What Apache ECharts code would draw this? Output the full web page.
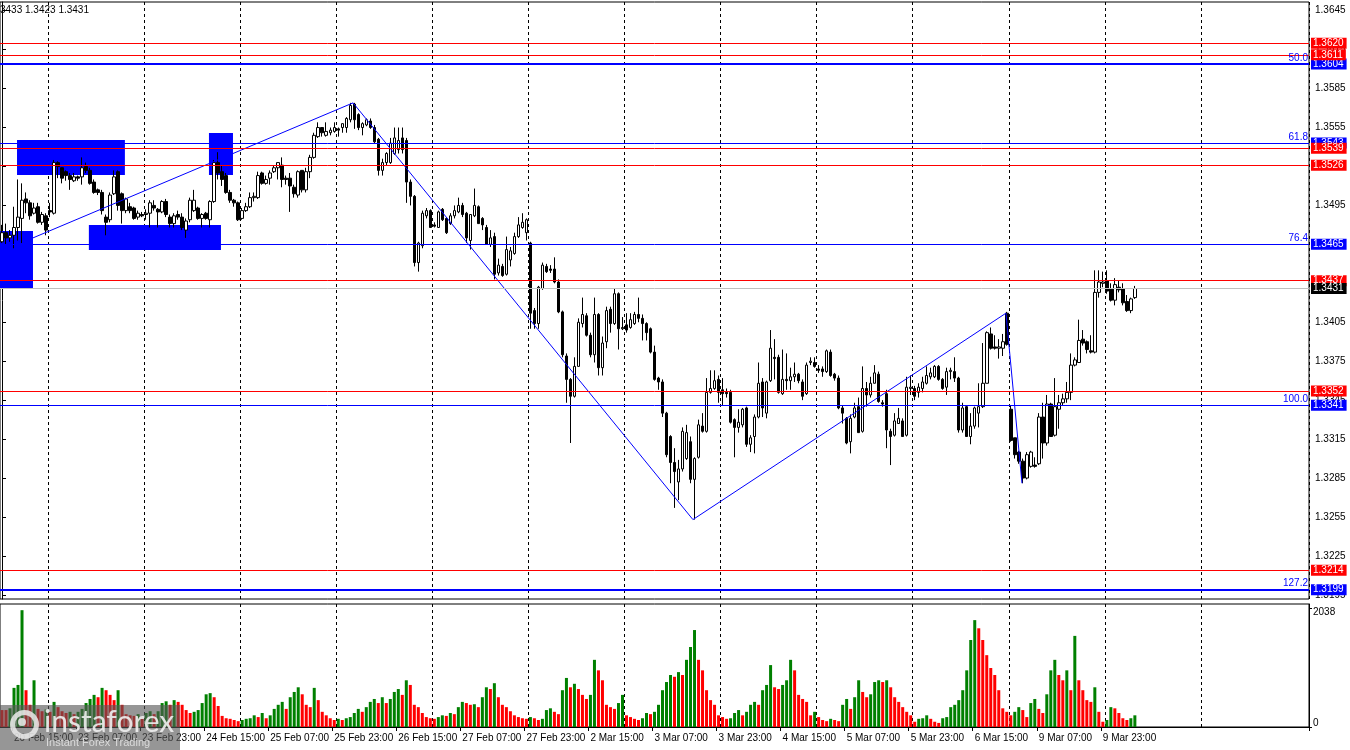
<!DOCTYPE html>
<html><head><meta charset="utf-8">
<script src="https://cdn.jsdelivr.net/npm/echarts@6/dist/echarts.min.js"></script>
<style>html,body{margin:0;padding:0;background:#fff;overflow:hidden}#c{width:1350px;height:750px}</style>
</head><body><div id="c"></div>
<script>
// ---- categories (hourly bars, trading days only) ----
const days = ['20 Feb','23 Feb','24 Feb','25 Feb','26 Feb','27 Feb','2 Mar','3 Mar','4 Mar','5 Mar','6 Mar','9 Mar','10 Mar','11 Mar','12 Mar'];
const firstHour = 12;
const slotCount = 327;

// ---- OHLC (H1) ----
const open = [
1.3467,1.3474,1.3470,1.3472,1.3478,1.3485,1.3500,1.3497,1.3489,1.3494,
1.3482,1.3487,1.3491,1.3489,1.3528,1.3524,1.3521,1.3518,1.3514,1.3517,
1.3517,1.3525,1.3522,1.3513,1.3507,1.3505,1.3486,1.3484,1.3504,1.3521,
1.3504,1.3491,1.3494,1.3493,1.3486,1.3488,1.3488,1.3489,1.3495,1.3492,
1.3490,1.3498,1.3486,1.3481,1.3488,1.3486,1.3476,1.3484,1.3491,1.3493,
1.3485,1.3489,1.3484,1.3498,1.3528,1.3521,1.3518,1.3505,1.3499,1.3497,
1.3485,1.3491,1.3494,1.3501,1.3501,1.3520,1.3512,1.3516,1.3521,1.3524,
1.3526,1.3516,1.3516,1.3509,1.3503,1.3522,1.3507,1.3521,1.3532,1.3548,
1.3555,1.3549,1.3551,1.3552,1.3554,1.3555,1.3555,1.3561,1.3573,1.3565,
1.3555,1.3557,1.3560,1.3555,1.3546,1.3522,1.3528,1.3528,1.3535,1.3538,
1.3547,1.3545,1.3513,1.3502,1.3451,1.3464,1.3487,1.3491,1.3480,1.3478,
1.3492,1.3485,1.3481,1.3487,1.3490,1.3495,1.3489,1.3468,1.3487,1.3494,
1.3485,1.3478,1.3465,1.3471,1.3443,1.3448,1.3442,1.3453,1.3458,1.3471,
1.3478,1.3474,1.3466,1.3414,1.3404,1.3431,1.3448,1.3446,1.3446,1.3436,
1.3413,1.3379,1.3361,1.3348,1.3371,1.3404,1.3410,1.3395,1.3380,1.3411,
1.3370,1.3390,1.3415,1.3404,1.3427,1.3400,1.3403,1.3401,1.3404,1.3411,
1.3408,1.3404,1.3400,1.3382,1.3362,1.3359,1.3335,1.3317,1.3297,1.3282,
1.3292,1.3300,1.3313,1.3284,1.3301,1.3325,1.3321,1.3351,1.3354,1.3361,
1.3353,1.3351,1.3351,1.3330,1.3324,1.3326,1.3339,1.3311,1.3317,1.3332,
1.3359,1.3335,1.3360,1.3378,1.3378,1.3350,1.3361,1.3360,1.3363,1.3365,
1.3359,1.3350,1.3374,1.3374,1.3369,1.3369,1.3367,1.3382,1.3365,1.3362,
1.3339,1.3331,1.3313,1.3332,1.3340,1.3321,1.3354,1.3349,1.3358,1.3365,
1.3343,1.3350,1.3321,1.3318,1.3327,1.3329,1.3318,1.3354,1.3354,1.3351,
1.3354,1.3358,1.3363,1.3363,1.3371,1.3361,1.3355,1.3367,1.3367,1.3362,
1.3322,1.3340,1.3317,1.3325,1.3335,1.3340,1.3358,1.3396,1.3386,1.3385,
1.3385,1.3412,1.3338,1.3316,1.3305,1.3298,1.3285,1.3294,1.3295,1.3296,
1.3332,1.3312,1.3342,1.3318,1.3338,1.3343,1.3346,1.3351,1.3372,1.3374,
1.3392,1.3390,1.3383,1.3382,1.3428,1.3435,1.3437,1.3431,1.3422,1.3432,
1.3431,1.3421,1.3414,1.3424];
const high = [
1.3480,1.3481,1.3476,1.3494,1.3515,1.3512,1.3505,1.3499,1.3497,1.3497,
1.3490,1.3489,1.3497,1.3530,1.3529,1.3524,1.3522,1.3520,1.3520,1.3518,
1.3532,1.3528,1.3524,1.3515,1.3508,1.3507,1.3488,1.3505,1.3522,1.3522,
1.3505,1.3501,1.3497,1.3494,1.3491,1.3490,1.3492,1.3499,1.3499,1.3493,
1.3499,1.3500,1.3488,1.3489,1.3491,1.3489,1.3485,1.3501,1.3507,1.3494,
1.3489,1.3490,1.3499,1.3530,1.3536,1.3526,1.3520,1.3507,1.3500,1.3498,
1.3493,1.3497,1.3505,1.3505,1.3521,1.3521,1.3518,1.3522,1.3526,1.3528,
1.3532,1.3518,1.3520,1.3511,1.3522,1.3522,1.3524,1.3534,1.3551,1.3559,
1.3555,1.3559,1.3555,1.3559,1.3555,1.3558,1.3563,1.3574,1.3574,1.3566,
1.3559,1.3562,1.3562,1.3557,1.3547,1.3531,1.3536,1.3547,1.3555,1.3555,
1.3555,1.3547,1.3515,1.3503,1.3467,1.3491,1.3493,1.3492,1.3482,1.3491,
1.3493,1.3486,1.3489,1.3495,1.3501,1.3497,1.3490,1.3488,1.3508,1.3495,
1.3486,1.3480,1.3476,1.3474,1.3454,1.3450,1.3471,1.3463,1.3474,1.3486,
1.3489,1.3485,1.3467,1.3416,1.3433,1.3451,1.3450,1.3449,1.3455,1.3438,
1.3414,1.3381,1.3362,1.3378,1.3408,1.3424,1.3412,1.3397,1.3424,1.3412,
1.3394,1.3417,1.3417,1.3431,1.3428,1.3409,1.3412,1.3412,1.3413,1.3424,
1.3411,1.3405,1.3401,1.3387,1.3363,1.3361,1.3336,1.3318,1.3308,1.3299,
1.3324,1.3326,1.3317,1.3301,1.3330,1.3335,1.3362,1.3368,1.3368,1.3364,
1.3362,1.3354,1.3353,1.3331,1.3338,1.3339,1.3340,1.3318,1.3334,1.3374,
1.3362,1.3360,1.3399,1.3392,1.3380,1.3384,1.3381,1.3370,1.3374,1.3366,
1.3361,1.3374,1.3378,1.3378,1.3372,1.3371,1.3384,1.3384,1.3366,1.3364,
1.3341,1.3332,1.3334,1.3343,1.3347,1.3371,1.3359,1.3363,1.3372,1.3367,
1.3345,1.3353,1.3323,1.3335,1.3339,1.3331,1.3363,1.3364,1.3356,1.3358,
1.3363,1.3371,1.3370,1.3372,1.3372,1.3362,1.3370,1.3370,1.3378,1.3363,
1.3343,1.3341,1.3335,1.3340,1.3358,1.3389,1.3398,1.3401,1.3395,1.3392,
1.3396,1.3413,1.3341,1.3316,1.3306,1.3300,1.3305,1.3306,1.3301,1.3335,
1.3343,1.3349,1.3343,1.3362,1.3349,1.3350,1.3359,1.3381,1.3378,1.3407,
1.3399,1.3391,1.3395,1.3445,1.3445,1.3444,1.3445,1.3435,1.3439,1.3437,
1.3435,1.3426,1.3424,1.3433];
const low = [
1.3466,1.3465,1.3467,1.3462,1.3468,1.3466,1.3489,1.3484,1.3488,1.3481,
1.3480,1.3472,1.3486,1.3488,1.3516,1.3512,1.3514,1.3507,1.3513,1.3514,
1.3511,1.3520,1.3511,1.3504,1.3503,1.3488,1.3472,1.3482,1.3503,1.3491,
1.3481,1.3489,1.3489,1.3484,1.3484,1.3486,1.3484,1.3478,1.3491,1.3478,
1.3489,1.3486,1.3478,1.3478,1.3484,1.3476,1.3470,1.3482,1.3490,1.3484,
1.3478,1.3484,1.3478,1.3497,1.3515,1.3510,1.3504,1.3497,1.3494,1.3483,
1.3484,1.3490,1.3493,1.3498,1.3500,1.3511,1.3511,1.3511,1.3520,1.3515,
1.3509,1.3511,1.3490,1.3501,1.3501,1.3505,1.3505,1.3516,1.3531,1.3547,
1.3548,1.3548,1.3549,1.3551,1.3548,1.3551,1.3551,1.3559,1.3554,1.3553,
1.3549,1.3556,1.3554,1.3543,1.3518,1.3518,1.3526,1.3527,1.3534,1.3535,
1.3535,1.3497,1.3495,1.3448,1.3444,1.3462,1.3485,1.3478,1.3478,1.3478,
1.3483,1.3473,1.3480,1.3485,1.3489,1.3486,1.3466,1.3461,1.3486,1.3481,
1.3476,1.3465,1.3463,1.3438,1.3441,1.3440,1.3441,1.3448,1.3457,1.3470,
1.3477,1.3468,1.3400,1.3400,1.3400,1.3430,1.3443,1.3443,1.3435,1.3412,
1.3378,1.3343,1.3312,1.3347,1.3371,1.3401,1.3394,1.3378,1.3374,1.3364,
1.3364,1.3385,1.3397,1.3403,1.3384,1.3399,1.3397,1.3400,1.3403,1.3405,
1.3391,1.3391,1.3381,1.3360,1.3353,1.3332,1.3301,1.3281,1.3262,1.3268,
1.3290,1.3299,1.3281,1.3253,1.3300,1.3320,1.3320,1.3350,1.3353,1.3343,
1.3341,1.3347,1.3327,1.3301,1.3320,1.3324,1.3309,1.3305,1.3304,1.3331,
1.3332,1.3331,1.3359,1.3361,1.3350,1.3349,1.3353,1.3353,1.3359,1.3358,
1.3345,1.3349,1.3372,1.3370,1.3366,1.3363,1.3366,1.3363,1.3360,1.3338,
1.3327,1.3311,1.3304,1.3331,1.3320,1.3320,1.3340,1.3347,1.3358,1.3343,
1.3340,1.3308,1.3295,1.3317,1.3327,1.3317,1.3317,1.3349,1.3345,1.3347,
1.3351,1.3357,1.3361,1.3362,1.3360,1.3353,1.3349,1.3361,1.3359,1.3320,
1.3320,1.3317,1.3311,1.3323,1.3324,1.3339,1.3358,1.3384,1.3384,1.3377,
1.3379,1.3387,1.3313,1.3300,1.3296,1.3281,1.3284,1.3293,1.3293,1.3295,
1.3300,1.3310,1.3317,1.3317,1.3323,1.3341,1.3343,1.3345,1.3371,1.3374,
1.3387,1.3381,1.3381,1.3381,1.3424,1.3432,1.3427,1.3421,1.3418,1.3428,
1.3418,1.3413,1.3412,1.3423];
const close = [
1.3474,1.3470,1.3472,1.3478,1.3486,1.3499,1.3497,1.3487,1.3493,1.3482,
1.3488,1.3476,1.3490,1.3528,1.3525,1.3516,1.3518,1.3515,1.3517,1.3516,
1.3524,1.3522,1.3512,1.3505,1.3505,1.3491,1.3482,1.3503,1.3517,1.3495,
1.3491,1.3500,1.3491,1.3485,1.3489,1.3487,1.3489,1.3497,1.3493,1.3490,
1.3498,1.3488,1.3481,1.3487,1.3486,1.3478,1.3483,1.3499,1.3499,1.3485,
1.3488,1.3485,1.3498,1.3528,1.3520,1.3515,1.3505,1.3499,1.3497,1.3484,
1.3491,1.3494,1.3501,1.3502,1.3518,1.3512,1.3515,1.3520,1.3524,1.3528,
1.3515,1.3515,1.3510,1.3504,1.3521,1.3507,1.3521,1.3532,1.3549,1.3555,
1.3551,1.3552,1.3553,1.3555,1.3553,1.3558,1.3562,1.3572,1.3561,1.3555,
1.3558,1.3561,1.3555,1.3544,1.3522,1.3528,1.3535,1.3543,1.3547,1.3545,
1.3538,1.3513,1.3502,1.3451,1.3466,1.3489,1.3491,1.3478,1.3479,1.3490,
1.3484,1.3474,1.3487,1.3491,1.3495,1.3488,1.3470,1.3488,1.3495,1.3481,
1.3480,1.3465,1.3470,1.3442,1.3449,1.3441,1.3461,1.3460,1.3471,1.3480,
1.3482,1.3484,1.3412,1.3404,1.3432,1.3449,1.3444,1.3445,1.3436,1.3413,
1.3380,1.3361,1.3348,1.3371,1.3405,1.3411,1.3395,1.3380,1.3411,1.3370,
1.3389,1.3414,1.3404,1.3427,1.3400,1.3401,1.3399,1.3407,1.3411,1.3408,
1.3404,1.3397,1.3382,1.3361,1.3359,1.3335,1.3303,1.3297,1.3290,1.3292,
1.3321,1.3320,1.3284,1.3300,1.3326,1.3321,1.3351,1.3354,1.3360,1.3351,
1.3350,1.3350,1.3328,1.3324,1.3328,1.3338,1.3311,1.3316,1.3332,1.3358,
1.3339,1.3359,1.3385,1.3377,1.3351,1.3361,1.3360,1.3363,1.3365,1.3360,
1.3348,1.3372,1.3375,1.3371,1.3368,1.3367,1.3383,1.3364,1.3362,1.3339,
1.3335,1.3312,1.3331,1.3339,1.3320,1.3354,1.3349,1.3358,1.3366,1.3344,
1.3342,1.3322,1.3317,1.3329,1.3331,1.3317,1.3355,1.3355,1.3348,1.3355,
1.3359,1.3364,1.3366,1.3371,1.3361,1.3354,1.3367,1.3368,1.3362,1.3322,
1.3339,1.3317,1.3325,1.3339,1.3340,1.3358,1.3397,1.3385,1.3385,1.3386,
1.3390,1.3388,1.3314,1.3303,1.3298,1.3285,1.3303,1.3305,1.3294,1.3332,
1.3312,1.3342,1.3317,1.3340,1.3343,1.3346,1.3351,1.3372,1.3376,1.3391,
1.3389,1.3384,1.3382,1.3428,1.3436,1.3436,1.3429,1.3422,1.3434,1.3430,
1.3420,1.3414,1.3423,1.3431];
const volume = [
290,290,320,670,720,2000,630,380,800,310,
270,300,260,430,340,270,240,260,220,260,
310,410,480,550,510,670,630,550,460,630,
380,220,200,190,220,170,240,270,220,270,
410,440,380,460,430,380,290,240,260,290,
410,560,580,510,360,190,150,140,120,100,
120,140,150,200,170,240,150,200,310,380,
430,310,510,600,680,560,380,340,670,460,
260,200,150,120,140,120,150,170,240,310,
260,340,430,480,410,510,410,480,600,650,
550,800,720,380,340,240,170,150,140,170,
200,190,240,220,340,430,410,380,390,340,
510,680,650,750,510,380,340,270,200,170,
150,140,170,150,120,140,290,320,260,220,
630,840,680,740,650,550,480,550,1150,970,
800,380,340,310,410,550,200,170,140,120,
150,240,220,260,380,630,770,890,860,940,
890,1150,1370,1660,1150,970,630,460,380,200,
170,140,150,240,290,200,260,380,430,380,
630,720,1060,680,650,720,800,1150,970,550,
480,430,200,260,170,120,100,140,120,100,
380,480,310,510,800,600,510,560,770,800,
770,800,680,510,430,340,260,200,90,140,
150,200,140,90,70,150,170,340,380,460,
630,970,1490,1830,1690,1490,1230,1010,890,630,
320,260,200,260,340,290,170,410,480,310,
240,560,970,1150,890,800,970,630,1560,800,
630,460,430,680,260,90,120,340,320,240,
150,120,150,200];

// ---- axis ticks ----
const priceTicks = [1.3195,1.3225,1.3255,1.3285,1.3315,1.3345,1.3375,1.3405,1.3435,1.3465,1.3495,1.3525,1.3555,1.3585,1.3615,1.3645];
const volumeTicks = [0, 2038];

// ---- horizontal levels ----
const redLevels = [1.3620, 1.3611, 1.3539, 1.3526, 1.3437, 1.3352, 1.3214];
const fibPrices = [1.3604, 1.3543, 1.3465, 1.3341, 1.3199];
const fibNames = ['50.0', '61.8', '76.4', '100.0', '127.2'];
const headerText = '3433 1.3423 1.3431';

// ---- zones [barStart, barEnd, priceTop, priceBottom] ----
const zones = [
  [-0.5, 7.74, 1.34753, 1.34314],
  [3.75, 30.7, 1.35454, 1.35184],
  [21.7, 54.7, 1.34799, 1.34606],
  [51.7, 57.7, 1.35508, 1.35184]
];
// ---- zigzag [bar, price] ----
const zigzag = [[7.74, 1.3470], [87.7, 1.3574], [172.6, 1.3253], [250.8, 1.3412], [254.8, 1.3281]];

// ---------------------------------------------------------------
const times = [];
days.forEach((d, j) => {
  for (let h = (j === 0 ? firstHour : 0); h < 24; h++) times.push(d + ' ' + String(h).padStart(2, '0') + ':00');
});
times.length = slotCount;
const nBars = close.length;
const FONT = 'Liberation Sans';
const lastClose = close[nBars - 1];

const candleData = open.map((o, k) => [o, close[k], low[k], high[k]]);
const volData = volume.map((v, k) => ({
  value: v,
  itemStyle: { color: (k > 0 && v > volume[k - 1]) ? '#008000' : '#FF0000' }
}));

const labelShow = (idx) => idx % 16 === 3 && idx < nBars;
const dayLine = (idx) => idx % 24 === 12 && idx < 310;

function levelSeries(name, price, lineColor, tagColor, width, z) {
  return {
    type: 'line', name: name, xAxisIndex: 2, yAxisIndex: 0, data: [], z: z, silent: true,
    color: lineColor,
    markLine: {
      silent: true, symbol: 'none', animation: false, z: z, precision: 4,
      lineStyle: { color: lineColor, width: width, type: 'solid', opacity: 1 },
      label: {
        show: true, position: 'end', distance: 2,
        formatter: price.toFixed(4),
        color: '#fff', backgroundColor: tagColor,
        fontFamily: FONT, fontSize: 10, padding: [1, 3, 0, 2], lineHeight: 10
      },
      data: [{ yAxis: price }]
    }
  };
}
function fibTextSeries(name, price, text) {
  return {
    type: 'line', name: name, xAxisIndex: 2, yAxisIndex: 0, data: [], z: 8, silent: true,
    color: '#0000FF',
    markLine: {
      silent: true, symbol: 'none', animation: false, z: 8, precision: 4,
      lineStyle: { color: 'rgba(0,0,0,0)', width: 1, type: 'solid' },
      label: { show: true, position: 'insideEndTop', distance: 1, formatter: text,
        color: '#0000FF', fontFamily: FONT, fontSize: 10 },
      data: [{ yAxis: price }]
    }
  };
}
const levelList = [];
fibPrices.forEach((p, j) => {
  const thick = (j === 0 || j === fibPrices.length - 1) ? 2 : 1;
  levelList.push(levelSeries('fib' + j, p, '#0000FF', '#0000FF', thick, 5));
  levelList.push(fibTextSeries('fibText' + j, p, fibNames[j]));
});
redLevels.forEach((p, j) => levelList.push(levelSeries('red' + j, p, '#FF0000', '#FF0000', 1, 6)));
levelList.push(levelSeries('last', lastClose, '#C0C0C0', '#000000', 1, 7));

const splitStyle = { show: true, interval: dayLine, lineStyle: { color: '#000', type: [3, 3], width: 1 } };

const option = {
  animation: false,
  backgroundColor: '#fff',
  textStyle: { fontFamily: FONT },
  grid: [
    { left: 0, right: 41, top: 2, height: 597, show: true, borderColor: '#000', borderWidth: 1, backgroundColor: 'transparent' },
    { left: 0, right: 41, top: 604, height: 123, show: true, borderColor: '#000', borderWidth: 1, backgroundColor: 'transparent' }
  ],
  xAxis: [
    { type: 'category', gridIndex: 0, data: times, boundaryGap: true,
      axisLine: { show: false }, axisTick: { show: false }, axisLabel: { show: false },
      splitLine: splitStyle },
    { type: 'category', gridIndex: 1, data: times, boundaryGap: true,
      axisLine: { show: true, lineStyle: { color: '#000' } },
      axisTick: { show: true, interval: labelShow, length: 4, lineStyle: { color: '#000' } },
      axisLabel: { show: true, interval: labelShow, align: 'left', color: '#000', fontFamily: FONT, fontSize: 10, margin: 6 },
      splitLine: splitStyle },
    { type: 'value', gridIndex: 0, position: 'top', min: -0.5, max: slotCount - 0.5, show: false }
  ],
  yAxis: [
    { type: 'value', gridIndex: 0, position: 'right', min: 1.319183, max: 1.36517, scale: true,
      axisLine: { show: true, lineStyle: { color: '#000' } },
      axisTick: { show: true, length: 4, customValues: priceTicks, lineStyle: { color: '#000' } },
      axisLabel: { show: true, customValues: priceTicks, formatter: v => v.toFixed(4), color: '#000', fontFamily: FONT, fontSize: 10, margin: 6 },
      splitLine: { show: false } },
    { type: 'value', gridIndex: 1, position: 'right', min: 0, max: 2106,
      axisLine: { show: true, lineStyle: { color: '#000' } },
      axisTick: { show: true, length: 3, customValues: volumeTicks, lineStyle: { color: '#000' } },
      axisLabel: { show: true, customValues: volumeTicks,
        formatter: v => (v > 0 ? '{t|' + v + '}' : '{b|' + v + '}'),
        rich: { t: { padding: [8, 0, 0, 0], fontSize: 10, fontFamily: FONT, color: '#000' },
                b: { padding: [0, 0, 8, 0], fontSize: 10, fontFamily: FONT, color: '#000' } },
        color: '#000', fontFamily: FONT, fontSize: 10, margin: 4 },
      splitLine: { show: false } }
  ],
  series: [
    { type: 'custom', name: 'zones', xAxisIndex: 2, yAxisIndex: 0, z: 1, silent: true,
      data: zones,
      encode: { x: [0, 1], y: [2, 3] },
      renderItem: (params, api) => {
        const a = api.coord([api.value(0), api.value(2)]);
        const b = api.coord([api.value(1), api.value(3)]);
        return { type: 'rect', shape: { x: a[0], y: a[1], width: b[0] - a[0], height: b[1] - a[1] }, style: { fill: '#0000FF' } };
      } },
    { type: 'candlestick', name: 'price', xAxisIndex: 0, yAxisIndex: 0, z: 2, barWidth: 3,
      data: candleData,
      itemStyle: { color: '#FFFFFF', color0: '#000000', borderColor: '#000000', borderColor0: '#000000', borderWidth: 1 } },
    { type: 'line', name: 'zigzag', xAxisIndex: 2, yAxisIndex: 0, z: 4, silent: true,
      data: zigzag, symbol: 'none', lineStyle: { color: '#0000FF', width: 1 } },
    { type: 'bar', name: 'volume', xAxisIndex: 1, yAxisIndex: 1, barWidth: 3, silent: true,
      data: volData }
  ].concat(levelList),
  graphic: [
    { type: 'text', left: 0, top: 5, z: 10, style: { text: headerText, fill: '#000', fontSize: 10, fontFamily: FONT } },
    { type: 'rect', left: 0, top: 705, zlevel: 1, silent: true, shape: { width: 180, height: 45 }, style: { fill: 'rgba(85,85,85,0.62)' } },
    { type: 'circle', left: 10, top: 710, zlevel: 1, silent: true, shape: { r: 12 }, style: { fill: 'none', stroke: 'rgba(235,235,235,0.85)', lineWidth: 5 } },
    { type: 'circle', left: 18, top: 718, zlevel: 1, silent: true, shape: { r: 4 }, style: { fill: 'rgba(235,235,235,0.85)' } },
    { type: 'text', left: 44, top: 707, zlevel: 1, silent: true, style: { text: 'instaforex', fill: 'rgba(240,240,240,0.9)', fontSize: 30, fontFamily: 'Lato' } },
    { type: 'text', left: 46, top: 737, zlevel: 1, silent: true, style: { text: 'Instant Forex Trading', fill: 'rgba(225,225,225,0.9)', fontSize: 11, fontFamily: FONT } }
  ]
};
echarts.init(document.getElementById('c'), null, { renderer: 'canvas' }).setOption(option);
</script>
</body></html>
